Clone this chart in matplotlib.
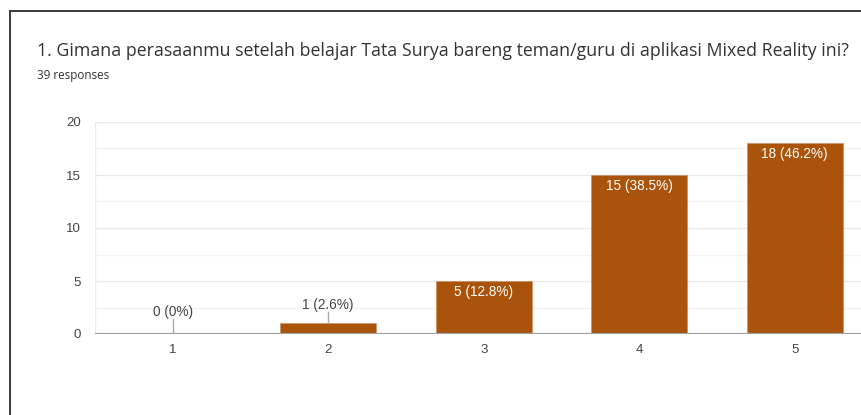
import matplotlib
matplotlib.use("Agg")
import matplotlib.pyplot as plt
from matplotlib.lines import Line2D

categories = ["1", "2", "3", "4", "5"]
counts = [0, 1, 5, 15, 18]
labels = ["0 (0%)", "1 (2.6%)", "5 (12.8%)", "15 (38.5%)", "18 (46.2%)"]
yticks = [0, 5, 10, 15, 20]
title = "1. Gimana perasaanmu setelah belajar Tata Surya bareng teman/guru di aplikasi Mixed Reality ini?"
subtitle = "39 responses"

plt.rcParams['font.family'] = ['Liberation Sans', 'DejaVu Sans']

W, H = 861, 415
fig = plt.figure(figsize=(W / 100, H / 100), dpi=100)
fig.patch.set_facecolor('white')

def fx(px):
    return px / W

def fy(py):
    return 1 - py / H

ax = fig.add_axes([fx(95), fy(334), 5 * 155.5 / W, (334 - 122) / H])
ax.set_xlim(-0.5, 4.5)
ax.set_ylim(0, 20)

bar_color = '#a9540a'
x = list(range(len(categories)))
ax.bar(x, counts, width=0.62, color=bar_color, zorder=3, edgecolor='#c98a5a', linewidth=0.4)

# grid
for v in [2.5, 7.5, 12.5, 17.5]:
    ax.axhline(v, color='#f4f4f4', lw=1, zorder=1)
for v in [5, 10, 15, 20]:
    ax.axhline(v, color='#ebebeb', lw=1, zorder=1)
ax.axhline(0, color='#9e9e9e', lw=1.6, zorder=4)
ax.axvline(-0.5, color='#ebebeb', lw=1, zorder=1)

for s in ax.spines.values():
    s.set_visible(False)

ax.set_yticks(yticks)
ax.set_yticklabels([str(t) for t in yticks], fontsize=9.5, color='#444444')
ax.set_xticks(x)
ax.set_xticklabels(categories, fontsize=9.5, color='#444444')
ax.tick_params(axis='both', length=0)
ax.tick_params(axis='y', pad=10)
ax.tick_params(axis='x', pad=7)

for i, (c, lab) in enumerate(zip(counts, labels)):
    if c >= 4:
        ax.text(i, c - 0.4, lab, ha='center', va='top', color='white', fontsize=9.8, zorder=5)
    else:
        top = c + 1.05 if c > 0 else 1.4
        ax.plot([i, i], [c, top], color='#aaaaaa', lw=1, zorder=5)
        ax.text(i, top + 0.05, lab, ha='center', va='bottom', color='#444444', fontsize=9.8, zorder=5)

fig.text(fx(37), fy(51), title, fontsize=12.75, color='#333333', va='center', ha='left',
         family=['Open Sans', 'DejaVu Sans'])
fig.text(fx(37), fy(76), subtitle, fontsize=8.4, color='#333333', va='center', ha='left',
         family=['Open Sans', 'DejaVu Sans'])

# screenshot frame
fig.add_artist(Line2D([fx(10), 1.0], [fy(11), fy(11)], color='#3a3a3a', lw=1.4))
fig.add_artist(Line2D([fx(10), fx(10)], [fy(11), 0.0], color='#3a3a3a', lw=1.4))

fig.savefig('out.png', dpi=100, facecolor='white')
